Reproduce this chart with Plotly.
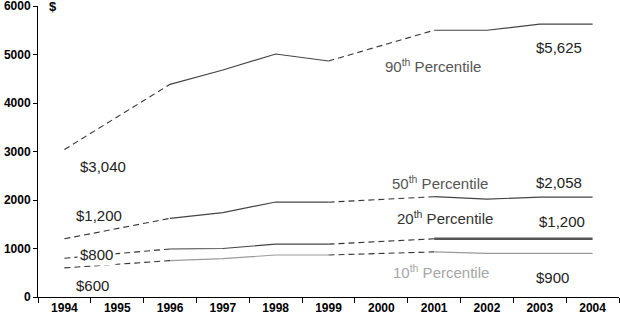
import plotly.graph_objects as go

years = ["1994", "1995", "1996", "1997", "1998", "1999", "2000", "2001", "2002", "2003", "2004"]
p90 = [3040, None, 4385, 4680, 5010, 4866, None, 5500, 5500, 5625, 5625]
p50 = [1200, None, 1622, 1740, 1959, 1955, None, 2068, 2020, 2058, 2058]
p20 = [800, None, 990, 1000, 1090, 1090, None, 1200, 1200, 1200, 1200]
p10 = [600, None, 750, 790, 866, 866, None, 930, 900, 900, 900]
yticks = [0, 1000, 2000, 3000, 4000, 5000, 6000]

fig = go.Figure()


def gap_segments(vals):
    segs = []
    last = None
    for i, v in enumerate(vals):
        if v is None:
            continue
        if last is not None and i - last > 1:
            segs.append((last, i))
        last = i
    return segs


for vals in (p90, p50, p20, p10):
    for a, b in gap_segments(vals):
        fig.add_trace(go.Scatter(x=[years[a], years[b]], y=[vals[a], vals[b]], mode="lines",
                                 line=dict(color="#333333", width=1.1, dash="6px,4px"),
                                 showlegend=False, hoverinfo="skip"))

fig.add_trace(go.Scatter(x=years, y=p90, mode="lines", line=dict(color="#444444", width=1.2),
                         connectgaps=False, showlegend=False))
fig.add_trace(go.Scatter(x=years, y=p50, mode="lines", line=dict(color="#444444", width=1.2),
                         connectgaps=False, showlegend=False))
fig.add_trace(go.Scatter(x=years[:7], y=p20[:7], mode="lines", line=dict(color="#444444", width=1.2),
                         connectgaps=False, showlegend=False))
fig.add_trace(go.Scatter(x=years[7:], y=p20[7:], mode="lines", line=dict(color="#555555", width=2.4),
                         showlegend=False))
fig.add_trace(go.Scatter(x=years, y=p10, mode="lines", line=dict(color="#9a9a9a", width=1.2),
                         connectgaps=False, showlegend=False))

L, R, T, B = 38, 1, 6, 26
W, H = 620, 323
pw = W - L - R


def px(x):
    return (x - L) / pw


FONT = "Arial, Liberation Sans, sans-serif"
annots = [
    ("$3,040", 103, 3040 - 350, "#222222", None),
    ("90<sup>th</sup> Percentile", 433, 4780, "#555555", None),
    ("$5,625", 559, 5150, "#222222", None),
    ("$1,200", 99, 1690, "#222222", None),
    ("50<sup>th</sup> Percentile", 440, 2360, "#555555", None),
    ("$2,058", 559, 2360, "#222222", None),
    ("20<sup>th</sup> Percentile", 445, 1640, "#333333", None),
    ("$1,200", 562, 1560, "#222222", None),
    ("$800", 96, 880, "#222222", "white"),
    ("$600", 92, 240, "#222222", None),
    ("10<sup>th</sup> Percentile", 441, 520, "#a6a6a6", None),
    ("$900", 552, 400, "#222222", None),
]
for text, x, y, col, bg in annots:
    fig.add_annotation(x=px(x), xref="paper", y=y, yref="y", text=text, showarrow=False,
                       font=dict(family=FONT, size=15, color=col), xanchor="center", yanchor="middle",
                       bgcolor=bg, borderpad=2 if bg else 0)

fig.add_annotation(x=px(53), xref="paper", y=6000, yref="y", text="<b>$</b>", showarrow=False,
                   font=dict(family=FONT, size=13, color="#000000"), xanchor="center", yanchor="middle")

fig.update_layout(
    width=W, height=H,
    margin=dict(l=L, r=R, t=T, b=B, autoexpand=False),
    paper_bgcolor="white", plot_bgcolor="white",
    font=dict(family=FONT, color="#000000"),
    xaxis=dict(type="category", categoryorder="array", categoryarray=years,
               range=[-0.5, len(years) - 0.5],
               showline=True, linecolor="black", linewidth=1,
               ticks="outside", ticklen=5, tickcolor="black", tickson="boundaries",
               showgrid=False, zeroline=False, ticklabeloverflow="allow",
               tickfont=dict(family=FONT, size=12, color="black", weight="bold")),
    yaxis=dict(range=[0, 6000], tickmode="array", tickvals=yticks,
               ticktext=[str(v) for v in yticks], ticklabeloverflow="allow",
               showline=True, linecolor="black", linewidth=1,
               ticks="outside", ticklen=4, tickcolor="black", showgrid=False, zeroline=False,
               tickfont=dict(family=FONT, size=12, color="black", weight="bold")),
)

fig.write_html("out.html")
